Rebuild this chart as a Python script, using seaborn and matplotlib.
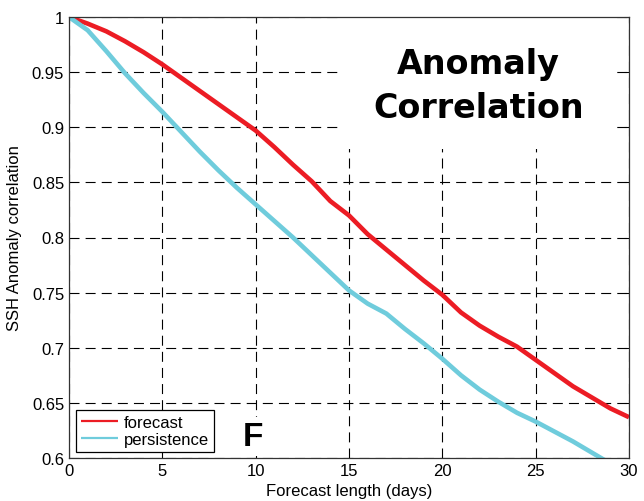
import matplotlib
matplotlib.use("Agg")
import matplotlib.pyplot as plt
from matplotlib.patches import Rectangle
import numpy as np
import pandas as pd
import seaborn as sns

# Anomaly correlation of sea-surface-height vs forecast length
days = list(range(31))
forecast = [1.000, 0.994, 0.987, 0.978, 0.968, 0.957, 0.945, 0.933, 0.921, 0.909,
            0.897, 0.882, 0.866, 0.851, 0.833, 0.820, 0.803, 0.789, 0.775, 0.761,
            0.748, 0.732, 0.720, 0.710, 0.701, 0.689, 0.677, 0.665, 0.655, 0.645,
            0.637]
persistence = [1.000, 0.988, 0.969, 0.949, 0.931, 0.914, 0.896, 0.878, 0.861, 0.845,
               0.830, 0.815, 0.800, 0.784, 0.768, 0.752, 0.740, 0.731, 0.717, 0.704,
               0.690, 0.675, 0.662, 0.651, 0.641, 0.633, 0.624, 0.615, 0.605, 0.595,
               0.586]
series_names = ["forecast", "persistence"]
series_colors = {"forecast": "#EC1C24", "persistence": "#6FCCDC"}

x_ticks = [0, 5, 10, 15, 20, 25, 30]
x_tick_labels = ["0", "5", "10", "15", "20", "25", "30"]
y_ticks = [0.6, 0.65, 0.7, 0.75, 0.8, 0.85, 0.9, 0.95, 1.0]
y_tick_labels = ["0.6", "0.65", "0.7", "0.75", "0.8", "0.85", "0.9", "0.95", "1"]

df = pd.DataFrame({
    "day": days * 2,
    "corr": forecast + persistence,
    "series": [series_names[0]] * len(days) + [series_names[1]] * len(days),
})

sns.set_style("white")
plt.rcParams["font.family"] = ["Liberation Sans", "DejaVu Sans"]
plt.rcParams["text.color"] = "black"
plt.rcParams["axes.labelcolor"] = "black"

fig = plt.figure(figsize=(6.44, 5.02), dpi=100)
ax = fig.add_axes([69 / 644, 1 - 459 / 502, 560 / 644, 441 / 502])
ax.set_axisbelow(True)

sns.lineplot(data=df, x="day", y="corr", hue="series", hue_order=series_names,
             palette=series_colors, linewidth=3.3, ax=ax, zorder=3)
for ln in ax.get_lines():
    ln.set_solid_joinstyle("round")
    ln.set_solid_capstyle("butt")

ax.set_xlim(0, 30)
ax.set_ylim(0.6, 1.0)
ax.set_xticks(x_ticks)
ax.set_xticklabels(x_tick_labels)
ax.set_yticks(y_ticks)
ax.set_yticklabels(y_tick_labels)

ax.grid(True, color="black", linewidth=0.8, linestyle=(0, (9.0, 5.5)))
ax.tick_params(direction="in", top=True, right=True, length=3.6, width=0.75,
               labelsize=12, colors="black", labelcolor="black", pad=3.5)
for sp in ax.spines.values():
    sp.set_visible(True)
    sp.set_color("#333333")
    sp.set_linewidth(0.9)
    sp.set_zorder(4)

ax.set_xlabel("Forecast length (days)", fontsize=12, labelpad=3.5)
ax.set_ylabel("SSH Anomaly correlation", fontsize=12, labelpad=7)

# white panel behind the title block hides the grid there
ax.add_patch(Rectangle(((343 - 69) / 560, (459 - 150) / 441),
                       (615 - 343) / 560, (150 - 18) / 441,
                       transform=ax.transAxes, facecolor="white",
                       edgecolor="none", zorder=1))
ax.text(0.731, 0.845, "Anomaly\nCorrelation", transform=ax.transAxes,
        ha="center", va="center", fontsize=24, fontweight="bold",
        family="DejaVu Sans", color="black", linespacing=1.45, zorder=5)

ax.text(9.85, 0.6195, "F", ha="center", va="center", fontsize=24,
        fontweight="bold", color="black", zorder=5,
        bbox=dict(facecolor="white", edgecolor="none", pad=3))

handles, labels = ax.get_legend_handles_labels()
leg = ax.legend(handles, labels, loc="lower left", bbox_to_anchor=(0.012, 0.014),
                borderaxespad=0, frameon=True, fancybox=False, fontsize=12,
                handlelength=2.25, handletextpad=0.35, borderpad=0.3,
                labelspacing=0.1, framealpha=1)
leg.get_frame().set_edgecolor("black")
leg.get_frame().set_linewidth(0.9)
leg.set_zorder(6)
for h in leg.get_lines():
    h.set_linewidth(1.6)

fig.savefig("out.png", dpi=100)
